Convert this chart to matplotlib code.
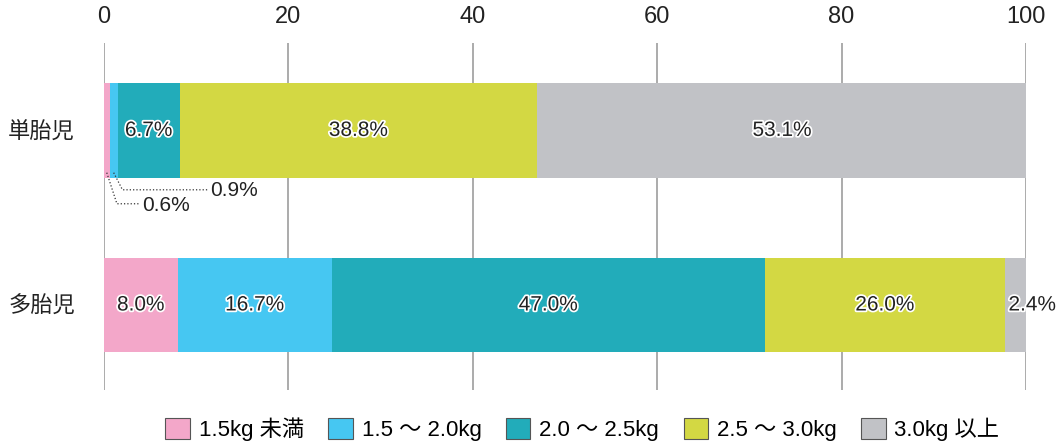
import matplotlib.pyplot as plt
import matplotlib.patheffects as pe
from matplotlib.patches import Patch
import numpy as np

plt.rcParams['font.family'] = ['Liberation Sans', 'Noto Sans CJK JP', 'DejaVu Sans']

# データ
categories = ['単胎児', '多胎児']
series = ['1.5kg 未満', '1.5 ～ 2.0kg', '2.0 ～ 2.5kg', '2.5 ～ 3.0kg', '3.0kg 以上']
single = [0.6, 0.9, 6.7, 38.8, 53.1]
multiple = [8.0, 16.7, 47.0, 26.0, 2.4]
colors = ['#F3A7C9', '#46C7F2', '#22ACBA', '#D3D843', '#C1C2C6']
ticks = [0, 20, 40, 60, 80, 100]

values = np.array([single, multiple])

fig = plt.figure(figsize=(10.59, 4.41), dpi=100)
ax = fig.add_axes([104 / 1059, 51 / 441, 922 / 1059, 347 / 441])

bar_h = 0.544
left = np.zeros(len(categories))
for j, name in enumerate(series):
    ax.barh(np.arange(len(categories)), values[:, j], left=left, height=bar_h,
            color=colors[j], zorder=3)
    left += values[:, j]

outline = [pe.withStroke(linewidth=2.5, foreground='white')]

# バー内ラベル
starts = np.cumsum(values, axis=1) - values
for i in range(len(categories)):
    for j in range(len(series)):
        v = values[i, j]
        if v < 2:
            continue
        if v < 3:
            ax.text(starts[i, j] + 0.4, i, f'{v:.1f}%', ha='left', va='center',
                    fontsize=15, color='#222222', path_effects=outline, zorder=5)
        else:
            ax.text(starts[i, j] + v / 2, i, f'{v:.1f}%', ha='center', va='center',
                    fontsize=15, color='#222222', path_effects=outline, zorder=5)

# 小さい値の引き出し線
x06 = starts[0, 0] + single[0] / 2
x09 = starts[0, 1] + single[1] / 2
y0 = bar_h / 2 - 0.03
ax.plot([x06, 1.4, 3.9], [y0, 0.42, 0.42], color='#333333', lw=0.9, ls=':', zorder=4)
ax.plot([x09, 2.0, 11.2], [y0, 0.34, 0.34], color='#333333', lw=0.9, ls=':', zorder=4)
ax.text(4.1, 0.43, f'{single[0]:.1f}%', ha='left', va='center', fontsize=15, color='#222222')
ax.text(11.5, 0.345, f'{single[1]:.1f}%', ha='left', va='center', fontsize=15, color='#222222')

ax.set_xlim(0, 100)
ax.set_ylim(1.487, -0.501)
ax.set_xticks(ticks)
ax.xaxis.tick_top()
ax.tick_params(axis='x', length=0, pad=11, labelsize=17, labelcolor='#222222')
ax.set_yticks(range(len(categories)))
ax.set_yticklabels(categories)
ax.tick_params(axis='y', length=0, pad=21, labelsize=16, labelcolor='#222222')
ax.grid(axis='x', color='#A5A5A5', lw=1.3, zorder=0)
for s in ax.spines.values():
    s.set_visible(False)

handles = [Patch(facecolor=c, edgecolor='#555555', linewidth=0.8) for c in colors]
fig.legend(handles, series, loc='lower center', bbox_to_anchor=(0.55, -0.045), ncol=5,
           frameon=False, fontsize=16, handlelength=1.1, handleheight=1.1,
           handletextpad=0.4, columnspacing=1.1)

fig.savefig('out.png', dpi=100)
